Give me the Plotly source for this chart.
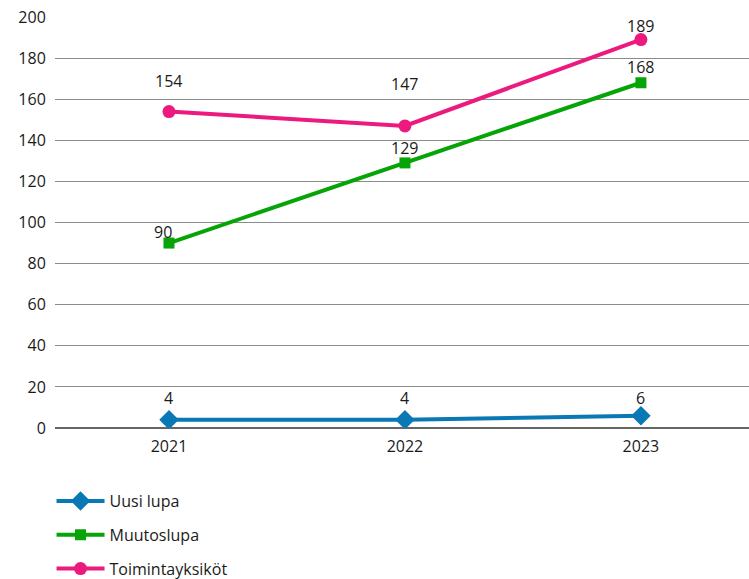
import plotly.graph_objects as go

years = ["2021", "2022", "2023"]
uusi_lupa = [4, 4, 6]
muutoslupa = [90, 129, 168]
toimintayksikot = [154, 147, 189]
y_ticks = [0, 20, 40, 60, 80, 100, 120, 140, 160, 180, 200]

series = [
    ("Uusi lupa", uusi_lupa, "#0a78b4", "diamond", 15),
    ("Muutoslupa", muutoslupa, "#06a406", "square", 11),
    ("Toimintayksiköt", toimintayksikot, "#ec1a7e", "circle", 13),
]
# label vertical offsets (px) above each point
label_shift = {
    "Uusi lupa": [22, 22, 18],
    "Muutoslupa": [11, 15, 16],
    "Toimintayksiköt": [31, 42, 14],
}
label_xshift = {
    "Uusi lupa": [0, 0, 0],
    "Muutoslupa": [-6, 0, 0],
    "Toimintayksiköt": [0, 0, 0],
}

font = "Open Sans"
fig = go.Figure()
annotations = []
for i, (name, vals, color, sym, size) in enumerate(series):
    fig.add_trace(go.Scatter(
        x=years, y=vals, name=name, mode="lines+markers",
        line=dict(color=color, width=4),
        marker=dict(symbol=sym, size=size, color=color),
        legendgroup=str(i),
    ))
    for j, v in enumerate(vals):
        annotations.append(dict(
            x=j, y=v, xref="x", yref="y", text=str(v), showarrow=False,
            yanchor="middle", xanchor="center",
            yshift=label_shift[name][j], xshift=label_xshift[name][j],
            font=dict(family=font, size=16, color="#1a1a1a"),
        ))

fig.update_layout(
    width=749, height=579,
    margin=dict(l=55, r=0, t=17, b=151, autoexpand=False),
    plot_bgcolor="white", paper_bgcolor="white",
    font=dict(family=font, size=16, color="#1a1a1a"),
    annotations=annotations,
    showlegend=True,
    legend=dict(
        orientation="v", x=-0.005, xanchor="left",
        yref="container", y=0.164, yanchor="top",
        font=dict(family=font, size=16, color="#1a1a1a"),
        tracegroupgap=10, itemwidth=48,
    ),
    xaxis=dict(
        type="category", range=[-0.483, 2.458],
        showgrid=False, showline=False, zeroline=False,
        ticks="outside", ticklen=4, tickcolor="rgba(0,0,0,0)",
        tickfont=dict(family=font, size=16, color="#1a1a1a"),
    ),
    yaxis=dict(
        range=[0, 200], tickvals=y_ticks,
        showgrid=True, gridcolor="#8c8c8c", gridwidth=1,
        zeroline=True, zerolinecolor="#666666", zerolinewidth=2,
        showline=False,
        ticks="outside", ticklen=5, tickcolor="rgba(0,0,0,0)",
        tickfont=dict(family=font, size=16, color="#1a1a1a"),
    ),
)

fig.write_html("out.html", config={"displayModeBar": False},
               post_script="document.body.style.margin='0';")
